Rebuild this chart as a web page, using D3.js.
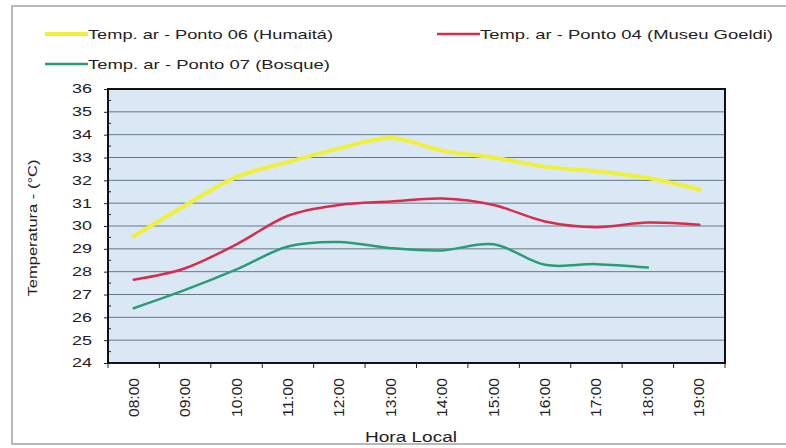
<!DOCTYPE html>
<html>
<head>
<meta charset="utf-8">
<script src="https://cdn.jsdelivr.net/npm/d3@7"></script>
<style>
  body { margin: 0; background: #fff; }
  svg { display: block; font-family: "Liberation Sans", Arial, sans-serif; }
</style>
</head>
<body>
<svg id="chart" width="786" height="448"></svg>
<script>
const horas = ["08:00", "09:00", "10:00", "11:00", "12:00", "13:00", "14:00", "15:00", "16:00", "17:00", "18:00", "19:00"];
const humaita = [29.55, 30.9, 32.15, 32.8, 33.4, 33.85, 33.3, 33.0, 32.6, 32.4, 32.1, 31.6];
const goeldi = [27.65, 28.15, 29.2, 30.45, 30.92, 31.07, 31.2, 30.92, 30.2, 29.95, 30.15, 30.05];
const bosque = [26.4, 27.2, 28.1, 29.1, 29.3, 29.03, 28.93, 29.2, 28.3, 28.33, 28.18];
const yTicks = [24, 25, 26, 27, 28, 29, 30, 31, 32, 33, 34, 35, 36];

const series = [
  {name: "Temp. ar - Ponto 06 (Humaitá)", values: humaita, color: "#f0f03a", width: 4},
  {name: "Temp. ar - Ponto 04 (Museu Goeldi)", values: goeldi, color: "#d92c4c", width: 2.5},
  {name: "Temp. ar - Ponto 07 (Bosque)", values: bosque, color: "#2a9c76", width: 2.5}
];

const svg = d3.select('#chart');

// moldura externa
svg.append('rect').attr('x', 12).attr('y', 6).attr('width', 790).attr('height', 438)
  .attr('fill', '#fff').attr('stroke', '#b8b8b8').attr('stroke-width', 2);

const x = d3.scaleBand().domain(horas).range([108, 725]).padding(0);
const y = d3.scaleLinear().domain([24, 36]).range([363, 89]);

// fundo da area de plotagem
svg.append('rect').attr('x', 108).attr('y', 89).attr('width', 617).attr('height', 274)
  .attr('fill', '#dae8f6');

// linhas de grade
svg.append('g').selectAll('line').data(yTicks.slice(1, -1)).enter().append('line')
  .attr('x1', 108).attr('x2', 725)
  .attr('y1', d => y(d)).attr('y2', d => y(d))
  .attr('stroke', '#66778a').attr('stroke-width', 1);

// eixo Y
const yAxis = d3.axisLeft(y).tickValues(yTicks).tickSize(4).tickFormat(d => d);
const gy = svg.append('g').attr('transform', 'translate(108,0)').call(yAxis);
gy.select('.domain').remove();
gy.selectAll('line').attr('stroke', '#222');
gy.selectAll('text').attr('x', -16).attr('font-size', 12).attr('fill', '#222')
  .attr('textLength', 20).attr('lengthAdjust', 'spacingAndGlyphs');

// marcas menores
svg.append('g').selectAll('line').data(yTicks.slice(0, -1).map(d => d + 0.5)).enter().append('line')
  .attr('x1', 108).attr('x2', 111)
  .attr('y1', d => y(d)).attr('y2', d => y(d))
  .attr('stroke', '#222');

// eixo X
const xAxis = d3.axisBottom(x).tickSize(0);
const gx = svg.append('g').attr('transform', 'translate(0,363)').call(xAxis);
gx.select('.domain').remove();
gx.selectAll('text')
  .attr('font-size', 14).attr('fill', '#222')
  .attr('text-anchor', 'end').attr('dy', 0)
  .attr('transform', 'translate(0,15) rotate(-90)')
  .attr('x', 0).attr('y', 5)
  .attr('textLength', 39).attr('lengthAdjust', 'spacingAndGlyphs');

svg.append('g').selectAll('line').data(horas.concat(['end'])).enter().append('line')
  .attr('x1', (d, i) => 108 + i * x.bandwidth()).attr('x2', (d, i) => 108 + i * x.bandwidth())
  .attr('y1', 363).attr('y2', 368)
  .attr('stroke', '#222');

// linhas das series
const line = d3.line()
  .x((d, i) => x(horas[i]) + x.bandwidth() / 2)
  .y(d => y(d))
  .curve(d3.curveCatmullRom.alpha(0));

svg.append('g').selectAll('path').data(series).enter().append('path')
  .attr('d', s => line(s.values))
  .attr('fill', 'none')
  .attr('stroke', s => s.color)
  .attr('stroke-width', s => s.width)
  .attr('stroke-linecap', 'round');

// borda da area de plotagem
svg.append('rect').attr('x', 108).attr('y', 89).attr('width', 617).attr('height', 274)
  .attr('fill', 'none').attr('stroke', '#111').attr('stroke-width', 2);

// titulos dos eixos
svg.append('text').text('Temperatura - (°C)')
  .attr('transform', 'translate(37,228) rotate(-90)')
  .attr('text-anchor', 'middle').attr('font-size', 13).attr('fill', '#222')
  .attr('textLength', 137).attr('lengthAdjust', 'spacingAndGlyphs');

svg.append('text').text('Hora  Local')
  .attr('x', 411).attr('y', 442)
  .attr('text-anchor', 'middle').attr('font-size', 14).attr('fill', '#222')
  .attr('textLength', 92).attr('lengthAdjust', 'spacingAndGlyphs');

// legenda
const legend = [
  {s: series[0], lx: 45, ly: 34, len: 245},
  {s: series[1], lx: 437, ly: 34, len: 293},
  {s: series[2], lx: 45, ly: 64, len: 242}
];
const lg = svg.append('g').selectAll('g').data(legend).enter().append('g')
  .attr('transform', d => 'translate(' + d.lx + ',' + d.ly + ')');
lg.append('line').attr('x1', 0).attr('x2', 43).attr('y1', 0).attr('y2', 0)
  .attr('stroke', d => d.s.color).attr('stroke-width', d => d.s.width);
lg.append('text').text(d => d.s.name)
  .attr('x', 43).attr('y', 5).attr('font-size', 13.5).attr('fill', '#222')
  .attr('textLength', d => d.len).attr('lengthAdjust', 'spacingAndGlyphs');
</script>
</body>
</html>
